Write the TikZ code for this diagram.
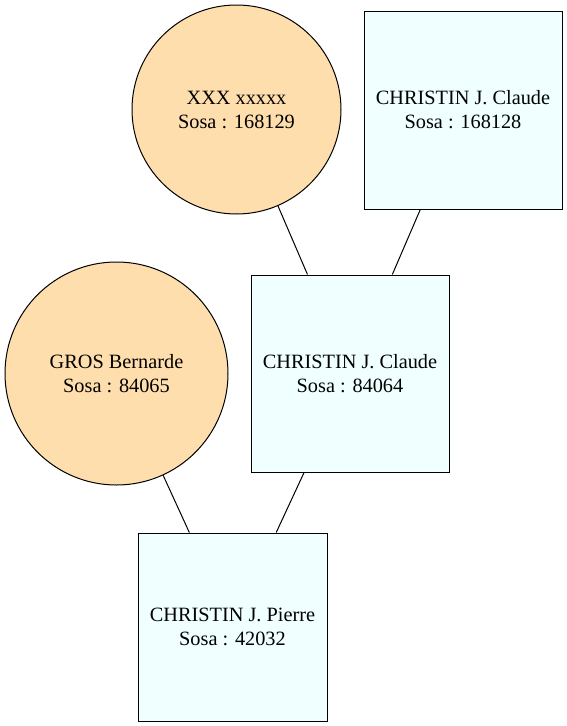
\documentclass[tikz,border=0pt]{standalone}
\usepackage{fontspec}
\setmainfont{Liberation Serif}
\usepackage{xcolor}
\definecolor{womanfill}{HTML}{FFDEAD}
\definecolor{manfill}{HTML}{F0FFFF}

\begin{document}
\begin{tikzpicture}[x=1pt,y=-1pt,line width=1pt,
        every node/.style={align=center,font=\fontsize{20.3}{24}\selectfont,inner sep=0pt},
        woman/.style={circle,draw,fill=womanfill},
        man/.style={rectangle,draw,fill=manfill}]
    \useasboundingbox (0,0) rectangle (567,726);
    \node[woman,minimum size=209pt] (xxx) at (236.5,109.5) {XXX xxxxx\\Sosa : 168129};
    \node[man,minimum width=198pt,minimum height=198pt] (claudeA) at (463,110) {CHRISTIN J. Claude\\Sosa : 168128};
    \node[man,minimum width=198pt,minimum height=197pt] (claudeB) at (350,373.5) {CHRISTIN J. Claude\\Sosa : 84064};
    \node[woman,minimum size=223pt] (gros) at (116.5,373.5) {GROS Bernarde\\Sosa : 84065};
    \node[man,minimum width=189pt,minimum height=188pt] (pierre) at (232.5,627) {CHRISTIN J. Pierre\\Sosa : 42032};
    \foreach \a/\b in {xxx/claudeB,claudeA/claudeB,gros/pierre,claudeB/pierre}
        \draw (\a) -- (\b);
\end{tikzpicture}
\end{document}
